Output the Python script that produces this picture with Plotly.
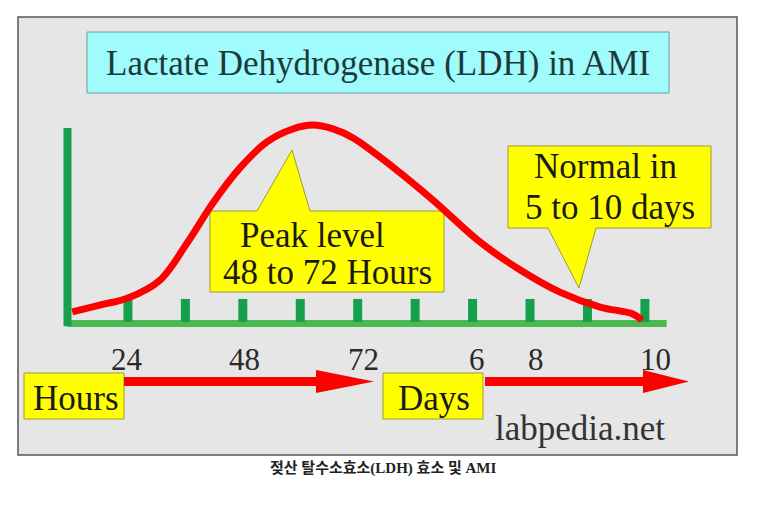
import plotly.graph_objects as go

# ---------------- data ----------------
# time position in tick units (0 = onset, ticks at 1..10), relative LDH level (peak = 100)
curve_t = [0.03, 0.51, 1.00, 1.56, 2.03, 2.48, 2.95, 3.42, 3.87, 4.22, 4.57, 4.92,
           5.61, 6.31, 7.13, 7.83, 8.52, 9.22, 9.79, 9.95]
curve_level = [5.1, 8.6, 12.2, 21.3, 40.1, 60.4, 78.2, 91.4, 98.0, 100.0, 98.0, 93.4,
               78.7, 61.9, 40.6, 26.4, 15.2, 7.6, 4.1, 1.0]
tick_pos = [1, 2, 3, 4, 5, 6, 7, 8, 9, 10]
tick_height = 11.7
label_pos = [1, 3, 5, 7, 8, 10]
label_text = ["24", "48", "72", "6", "8", "10"]

# ---------------- geometry helpers ----------------
W, H = 757, 512
X0PX, XSTEP = 70.5, 57.44      # pixel of t=0, pixels per tick
Y0PX, YSTEP = 322.0, 1.97      # pixel of level 0, pixels per level unit
xr = [(0 - X0PX) / XSTEP, (W - X0PX) / XSTEP]
yr = [(Y0PX - H) / YSTEP, (Y0PX - 0) / YSTEP]


def P(x):
    return x / W


def Q(y):
    return 1 - y / H


def path(pts):
    return "M " + " L ".join(f"{P(x):.5f},{Q(y):.5f}" for x, y in pts) + " Z"


SERIF = "Liberation Serif, Times New Roman, serif"
YEL = "#ffff00"
YEL_LINE = "#9c9c30"

fig = go.Figure()

# tick marks
tx, ty = [], []
for t in tick_pos:
    tx += [t, t, None]
    ty += [0, tick_height, None]
fig.add_trace(go.Scatter(x=tx, y=ty, mode="lines", line=dict(color="#14a04c", width=9),
                         hoverinfo="skip", showlegend=False))

# LDH curve
fig.add_trace(go.Scatter(x=curve_t, y=curve_level, mode="lines",
                         line=dict(color="#ff0000", width=7, shape="spline", smoothing=1.0),
                         showlegend=False, cliponaxis=False))

shapes = []
# panel background
shapes.append(dict(type="rect", xref="paper", yref="paper", x0=P(18), x1=P(737), y0=Q(455), y1=Q(17),
                   fillcolor="#e6e6e6", line=dict(color="#555555", width=1.5), layer="below"))
# title box
shapes.append(dict(type="rect", xref="paper", yref="paper", x0=P(87), x1=P(669), y0=Q(93), y1=Q(32),
                   fillcolor="#a0fbfc", line=dict(color="#6f9a9a", width=1), layer="below"))
# horizontal axis
shapes.append(dict(type="line", xref="x", yref="y", x0=-0.06, x1=10.38, y0=-0.7, y1=-0.7,
                   line=dict(color="#4db84f", width=7), layer="below"))
# vertical axis
shapes.append(dict(type="line", xref="x", yref="y", xsizemode="pixel", xanchor=0, x0=-3, x1=-3,
                   y0=-2.2, y1=98.5, line=dict(color="#14a04c", width=8), layer="below"))
# peak callout
shapes.append(dict(type="path", xref="paper", yref="paper",
                   path=path([(210, 211), (257, 211), (292, 150), (310, 211), (444, 211), (444, 292), (210, 292)]),
                   fillcolor=YEL, line=dict(color=YEL_LINE, width=1), layer="below"))
# normal callout
shapes.append(dict(type="path", xref="paper", yref="paper",
                   path=path([(508, 146), (711, 146), (711, 228), (596, 228), (579, 288), (548, 228), (508, 228)]),
                   fillcolor=YEL, line=dict(color=YEL_LINE, width=1), layer="below"))
# hours / days boxes
for x0, x1 in [(24, 124), (383, 483)]:
    shapes.append(dict(type="rect", xref="paper", yref="paper", x0=P(x0), x1=P(x1), y0=Q(419), y1=Q(373),
                       fillcolor=YEL, line=dict(color=YEL_LINE, width=1), layer="below"))
# arrows
for a, b, c in [(124, 316, 374), (485, 643, 689)]:
    shapes.append(dict(type="path", xref="paper", yref="paper",
                       path=path([(a, 377), (b, 377), (b, 370), (c, 381.5), (b, 393), (b, 386), (a, 386)]),
                       fillcolor="#ff0000", line=dict(width=0), layer="below"))

annotations = []


def txt(text, x, baseline, size=35, color="#1a1a1a", family=SERIF):
    annotations.append(dict(text=text, xref="paper", yref="paper", x=P(x), y=Q(baseline - 0.3375 * size),
                            xanchor="center", yanchor="middle", showarrow=False,
                            font=dict(family=family, size=size, color=color)))


txt("Lactate Dehydrogenase (LDH) in AMI", 378, 75, 35, "#1d3a3a")
txt("Peak level", 312, 247, 35)
txt("48 to 72 Hours", 327, 284, 35)
txt("Normal in", 605, 178, 35)
txt("5 to 10 days", 610, 219, 35)
txt("Hours", 76, 410, 35)
txt("Days", 434, 410, 35)
txt("labpedia.net", 580, 440, 35, "#333333")

label_nudge = [-1, 2, 6, 4, 6, 11]
for t, s, dx in zip(label_pos, label_text, label_nudge):
    annotations.append(dict(text=s, x=t, xref="x", yref="paper", y=Q(370 - 0.3375 * 31), xshift=dx,
                            xanchor="center", yanchor="middle", showarrow=False,
                            font=dict(family=SERIF, size=31, color="#2a2a2a")))

annotations.append(dict(text="<b>젖산 탈수소효소(LDH) 효소 및 AMI</b>", xref="paper", yref="paper",
                        x=P(383), y=Q(468), xanchor="center", yanchor="middle", showarrow=False,
                        font=dict(family="Liberation Serif, Noto Sans CJK KR, serif", size=15, color="#222222")))

fig.update_layout(
    width=W, height=H, margin=dict(l=0, r=0, t=0, b=0),
    paper_bgcolor="white", plot_bgcolor="rgba(0,0,0,0)",
    xaxis=dict(range=xr, visible=False, fixedrange=True),
    yaxis=dict(range=yr, visible=False, fixedrange=True),
    shapes=shapes, annotations=annotations, showlegend=False,
)

fig.write_html("out.html")
